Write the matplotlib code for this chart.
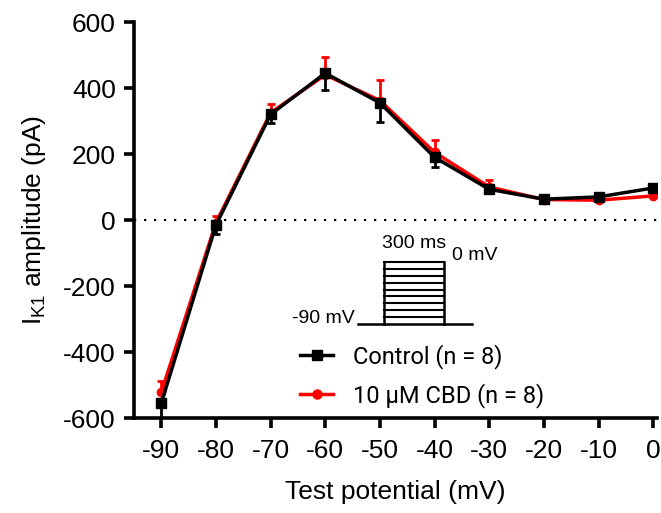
import numpy as np
import matplotlib
matplotlib.use('Agg')
import matplotlib.pyplot as plt
from matplotlib.lines import Line2D

plt.rcParams['font.family'] = ['Liberation Sans', 'DejaVu Sans']
plt.rcParams['mathtext.fontset'] = 'custom'
plt.rcParams['mathtext.rm'] = 'Liberation Sans'
plt.rcParams['mathtext.it'] = 'Liberation Sans'
plt.rcParams['axes.unicode_minus'] = False

# data
voltage = [-90, -80, -70, -60, -50, -40, -30, -20, -10, 0]
control_mean = [-555, -15, 320, 445, 355, 190, 93, 63, 70, 97]
control_err = [45, 28, 25, 52, 57, 30, 12, 8, 8, 10]   # drawn downward only
cbd_mean = [-522, -8, 325, 440, 362, 205, 100, 62, 60, 73]
cbd_err = [35, 20, 28, 55, 62, 38, 20, 8, 8, 8]        # drawn upward only

# voltage-step protocol for the inset
proto_levels = [-90, -80, -70, -60, -50, -40, -30, -20, -10, 0]
proto_times = [-130, 0, 300, 440]

fig = plt.figure(figsize=(6.61, 5.13), dpi=100)
ax = fig.add_axes([134 / 661, 1 - 418 / 513, 523 / 661, 396 / 513])

ax.axhline(0, color='black', lw=1.6, ls=(0, (1, 3.5)), zorder=1)

zeros = [0] * len(voltage)
ax.errorbar(voltage, cbd_mean, yerr=[zeros, cbd_err], color='red', marker='o', ms=6,
            lw=2.5, capsize=2.7, capthick=2, elinewidth=2, zorder=3)
ax.errorbar(voltage, control_mean, yerr=[control_err, zeros], color='black', marker='s', ms=7,
            lw=2.5, capsize=2.7, capthick=2, elinewidth=2, zorder=4)

ax.set_xlim(-95, 0.7)
ax.set_ylim(-600, 600)
ax.set_xticks(voltage)
ax.set_yticks(np.arange(-600, 601, 200))
for s in ['top', 'right']:
    ax.spines[s].set_visible(False)
for s in ['left', 'bottom']:
    ax.spines[s].set_linewidth(2.6)
ax.tick_params(width=2.6, length=7, labelsize=19)
ax.tick_params(axis='x', pad=8)
ax.tick_params(axis='y', pad=6)
ax.set_xlabel('Test potential (mV)', fontsize=19, labelpad=12)
ax.set_ylabel('I$_{\\mathrm{K1}}$ amplitude (pA)', fontsize=19, labelpad=11)

handles = [Line2D([], [], color='black', marker='s', ms=7, lw=2.5),
           Line2D([], [], color='red', marker='o', ms=6.5, lw=2.5)]
labels = ['Control (n = 8)', '10 µM CBD (n = 8)']
ax.legend(handles, labels, loc='upper left', bbox_to_anchor=(0.277, 0.24),
          frameon=False, handlelength=1.4, handletextpad=0.85, labelspacing=0.6,
          prop={'family': ['Roboto', 'DejaVu Sans'], 'size': 17})

# protocol inset
ins = fig.add_axes([358 / 661, 1 - 324 / 513, 114 / 661, 62 / 513])
ins.set_xlim(proto_times[0], proto_times[-1])
ins.set_ylim(-90, 0)
ins.axis('off')
ins.plot([proto_times[0], proto_times[-1]], [proto_levels[0]] * 2, color='black', lw=1.8,
         clip_on=False)
ins.plot([proto_times[1]] * 2, [proto_levels[0], proto_levels[-1]], color='black', lw=1.8,
         clip_on=False)
ins.plot([proto_times[2]] * 2, [proto_levels[0], proto_levels[-1]], color='black', lw=1.8,
         clip_on=False)
for lv in proto_levels[1:]:
    ins.plot([proto_times[1], proto_times[2]], [lv, lv], color='black', lw=1.5, clip_on=False)

ins.text(150, 14, '300 ms', ha='center', va='bottom', fontsize=14)
ins.text(340, 9, '0 mV', ha='left', va='center', fontsize=14)
ins.text(-145, -82, '-90 mV', ha='right', va='center', fontsize=14)

fig.savefig('out.png', dpi=100)
